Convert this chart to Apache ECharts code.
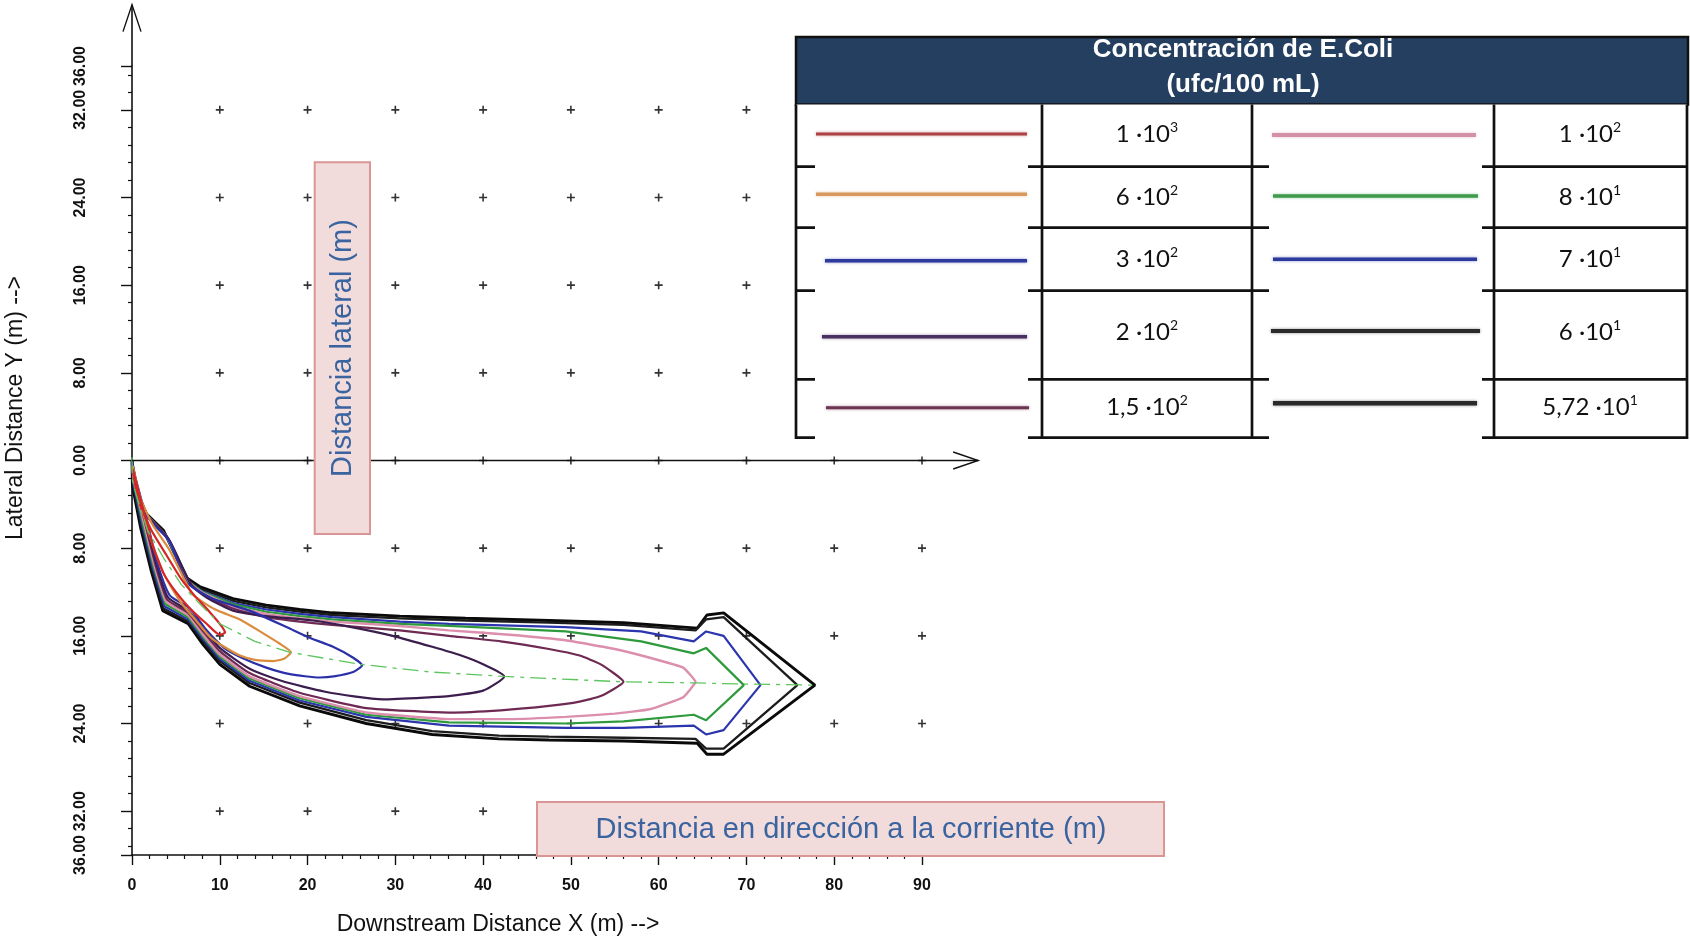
<!DOCTYPE html>
<html>
<head>
<meta charset="utf-8">
<title>Concentración de E.Coli</title>
<script src="https://cdn.jsdelivr.net/npm/echarts@6/dist/echarts.min.js"></script>
<style>
  html, body { margin: 0; padding: 0; background: #ffffff; }
  #chart { width: 1690px; height: 940px; }
</style>
</head>
<body>
<div id="chart"></div>
<script>
// ---- Iso-concentration contours of the plume: [downstream X (m), lateral Y (m)] ----
const contour_1e3 = [[0.1,0.8],[0.7,3.5],[2.1,6.2],[3.9,8.6],[5.6,10.8],[7.2,12.4],[8.6,13.6],[10.6,15.7],
  [10,15.9],[8.5,14.9],[6.6,13.5],[5.0,12.0],[3.6,10.3],[2.3,7.6],[1.0,3.6],[0.1,0.8]];
const contour_6e2 = [[0.1,0.5],[0.95,3.4],[2.3,5.8],[4.3,8.2],[6.0,10.9],[7.0,12.3],[9.5,13.6],[12.3,14.5],[15,15.8],[16.8,16.7],[18.1,17.5],
  [17.3,18.1],[16.1,18.3],[14,18.2],[12.3,17.8],[10.5,17.0],[8.9,16.1],[7.3,14.6],[5.6,13.0],[3.6,10.3],[1.9,6.6],[0.6,2.6],[0.1,0.5]];
const contour_3e2 = [[0,0.1],[0.85,3.1],[2.0,5.4],[4.3,7.4],[6.2,11.1],[8.9,12.5],[11,13.1],[13.4,13.7],[17.6,15.2],[20,16.1],[22.9,17.0],[25.2,18.0],[26.2,18.7],
  [25.2,19.3],[23,19.7],[21.4,19.8],[18,19.5],[15.3,18.9],[12.5,18.0],[10.5,17.1],[8.3,15.3],[6.6,13.5],[4.3,12.3],[2.9,9.4],[1.7,5.5],[0.4,1.6],[0,0.1]];
const contour_2e2 = [[0,0],[0.75,3.0],[1.9,5.2],[4.2,7.2],[6.8,11.4],[8.5,12.5],[11.5,13.7],[15.3,14.2],[20.6,14.6],[25,15.2],[29.7,16.0],[34.2,17.0],[37.5,17.8],[40,18.6],[42.4,19.7],
  [40,21.0],[36.1,21.5],[34.2,21.6],[28.6,21.8],[22,21.1],[17,20.1],[13.4,19.0],[10,17.1],[8.1,15.3],[6.4,13.7],[4.1,12.5],[2.8,9.5],[1.6,5.6],[0.35,1.7],[0,0]];
const contour_1_5e2 = [[0,0],[0.65,2.9],[1.8,5.1],[4.1,7.1],[6.7,11.3],[8.3,12.3],[11.5,13.5],[15.3,14.3],[19.1,14.7],[22.8,15.0],[30.5,15.5],[36.1,16.0],[42,16.5],[47.5,17.2],[51,17.8],[53.4,18.6],[56,20.2],
  [53.4,21.5],[51,22.0],[47.5,22.4],[42,22.8],[36.1,23.0],[26.7,22.6],[19.1,21.2],[13.4,19.4],[10,17.4],[8.1,15.6],[6.4,13.9],[4.0,12.7],[2.7,9.6],[1.5,5.7],[0.3,1.8],[0,0]];
const contour_1e2 = [[0,0],[0.55,2.8],[1.7,5.0],[4.0,7.0],[6.6,11.2],[8.1,12.1],[11.5,13.3],[15.3,14.0],[19.1,14.4],[22.8,14.7],[30.5,15.1],[36.1,15.5],[43,15.9],[49.4,16.4],[55,17.2],[59,18.0],[62.8,18.9],[64.2,20.2],
  [62.8,21.6],[59,22.7],[55,23.1],[49.4,23.4],[43,23.6],[36.1,23.6],[26.7,23.0],[19.1,21.5],[13.4,19.7],[10,17.7],[8.1,15.9],[6.4,14.1],[3.9,12.9],[2.6,9.7],[1.4,5.8],[0.25,1.9],[0,0]];
const contour_8e1 = [[0,0],[0.45,2.7],[1.6,4.9],[3.9,6.9],[6.5,11.1],[8.0,12.0],[11.5,13.1],[15.3,13.8],[19.1,14.2],[22.8,14.5],[30.5,14.9],[36.1,15.1],[49.4,15.6],[58,16.5],[64,17.6],[65.4,17.1],[69.7,20.5],
  [65.4,23.7],[64,23.2],[56,23.8],[49.4,24.0],[36.1,23.9],[26.7,23.2],[19.1,21.7],[13.4,19.9],[10,17.9],[8.1,16.1],[6.4,14.3],[3.8,13.1],[2.5,9.8],[1.3,5.9],[0.2,2.0],[0,0]];
const contour_7e1 = [[0,0],[0.35,2.6],[1.5,4.8],[3.8,6.8],[6.4,11.0],[7.9,11.9],[11.5,13.0],[15.3,13.6],[19.1,14.0],[22.8,14.3],[30.5,14.7],[36.1,14.9],[49.4,15.2],[58,15.6],[64,16.5],[65.4,15.6],[67.4,16.0],[71.6,20.5],
  [67.4,24.6],[65.4,25.0],[64,24.2],[56,24.4],[49.4,24.4],[36.1,24.2],[26.7,23.4],[19.1,21.9],[13.4,20.1],[10,18.1],[8.1,16.3],[6.4,14.5],[3.7,13.3],[2.4,9.9],[1.2,6.0],[0.15,2.1],[0,0]];
const contour_6e1 = [[0,0],[0.25,2.5],[1.4,4.7],[3.7,6.6],[6.3,10.9],[7.8,11.7],[11.5,12.8],[15.3,13.4],[19.1,13.8],[22.8,14.1],[30.5,14.4],[38,14.6],[47.5,14.8],[56,15.0],[64.2,15.5],[65.4,14.5],[67.4,14.3],[75.8,20.5],
  [67.4,26.3],[65.4,26.3],[64.2,25.4],[56,25.3],[47.5,25.2],[41.8,25.1],[34.2,24.7],[26.7,23.7],[19.1,22.1],[13.4,20.3],[10,18.3],[8.1,16.5],[6.4,14.7],[3.6,13.5],[2.3,10.0],[1.1,6.1],[0.1,2.2],[0,0]];
const contour_5_72e1 = [[0,0],[0.15,2.4],[1.3,4.6],[3.6,6.4],[6.2,10.7],[7.7,11.5],[11.5,12.6],[15.3,13.2],[19.1,13.6],[22.8,13.9],[30.5,14.2],[38,14.4],[47.5,14.6],[56,14.8],[64.4,15.3],[65.5,14.1],[67.4,13.9],[77.8,20.5],
  [67.4,26.8],[65.5,26.8],[64.4,25.8],[56,25.6],[47.5,25.5],[41.8,25.4],[34.2,25.0],[26.7,24.0],[19.1,22.4],[13.4,20.6],[10,18.6],[8.1,16.8],[6.4,14.9],[3.5,13.7],[2.2,10.1],[1.0,6.2],[0.05,2.3],[0,0]];
const plumeCentreline = [[0,-0.3],[0.05,1.8],[0.5,3.2],[1.8,6.4],[3.6,8.9],[5.6,11.3],[7.5,12.9],[10,14.9],[14,16.5],[18,17.5],[26,18.6],[34,19.3],[42.4,19.7],[56,20.2],[64.2,20.3],[70,20.4],[77.8,20.5]];

// ---- Contour levels (ufc/100 mL), written as mantissa · 10^exponent ----
const levelMantissa = ['1', '6', '3', '2', '1,5', '1', '8', '7', '6', '5,72'];
const levelExponent = ['3', '2', '2', '2', '2', '2', '1', '1', '1', '1'];

// ---- Axis ticks and reference grid ----
const xTickValues = [0, 10, 20, 30, 40, 50, 60, 70, 80, 90];
const yTickValues = [-36, -32, -24, -16, -8, 0, 8, 16, 24, 32, 36];
const gridMarkX = [10, 20, 30, 40, 50, 60, 70, 80, 90];
const gridMarkY = [-32, -24, -16, -8, 0, 8, 16, 24, 32];

// ---- Styles ----
const contours = [contour_1e3, contour_6e2, contour_3e2, contour_2e2, contour_1_5e2,
                  contour_1e2, contour_8e1, contour_7e1, contour_6e1, contour_5_72e1];
const lineColors   = ['#d42626', '#da8b3c', '#2a30a8', '#3b1d4e', '#6e2a52', '#dc8fac', '#2d9a3c', '#2b35ad', '#1c1c1c', '#0a0a0a'];
const lineWidths   = [2.2, 2.2, 2.2, 2.2, 2.2, 2.4, 2.2, 2.2, 2.3, 2.9];
const lineSmooth   = [0.2, 0.2, 0.2, 0.2, 0.15, 0.1, 0, 0, 0, 0];
const swatchColors = ['#ad4246', '#d69a5e', '#2f3a9e', '#4a3060', '#6e3552', '#d490a6', '#3f9a4c', '#2c3a9c', '#2a2a2a', '#2a2a2a'];
const swatchWidths = [3, 3.5, 3.5, 3.5, 3, 4, 3.5, 3.5, 4, 4.5];

const TICK_FONT = "'Liberation Sans',Arial,Helvetica,sans-serif";
const SANS = "'Liberation Sans',Arial,Helvetica,sans-serif";
const CELL_FONT = "Lato,'Open Sans','Noto Sans',sans-serif";

const yMinorTicks = [];
for (let k = -22; k <= 22; k++) {
  if (k % 5 !== 0) yMinorTicks.push(+(k * 1.6).toFixed(2));
}

const crossSymbol = 'path://M3,0H4.5V3H7.5V4.5H4.5V7.5H3V4.5H0V3H3Z';
const markData = [];
gridMarkY.forEach(function (y) { gridMarkX.forEach(function (x) { markData.push([x, y]); }); });

const series = [{
  type: 'scatter',
  data: markData,
  symbol: crossSymbol,
  symbolSize: 8,
  itemStyle: { color: '#000000' },
  silent: true,
  z: 1
}];

// outer contours first so the inner ones sit on top
for (let i = contours.length - 1; i >= 0; i--) {
  series.push({
    type: 'line',
    name: levelMantissa[i] + '·10^' + levelExponent[i],
    data: contours[i],
    showSymbol: false,
    symbol: 'none',
    smooth: lineSmooth[i],
    silent: true,
    clip: false,
    lineStyle: { color: lineColors[i], width: lineWidths[i] },
    z: 3
  });
}
series.push({
  type: 'line',
  data: plumeCentreline,
  showSymbol: false,
  symbol: 'none',
  silent: true,
  lineStyle: { color: '#5cc65c', width: 1.3, type: [16, 6, 4, 6] },
  z: 4
});

const chart = echarts.init(document.getElementById('chart'), null, { renderer: 'canvas' });

chart.setOption({
  animation: false,
  backgroundColor: '#ffffff',
  grid: { left: 132, right: 768, top: 66, bottom: 85, containLabel: false },
  xAxis: {
    type: 'value', min: 0, max: 90, interval: 10, position: 'bottom',
    axisLine: { onZero: false, lineStyle: { color: '#111', width: 1.6 } },
    axisTick: { length: 10, lineStyle: { color: '#111', width: 1.4 } },
    minorTick: { show: true, splitNumber: 5, length: 4, lineStyle: { color: '#111', width: 1.2 } },
    axisLabel: {
      margin: 23, fontFamily: TICK_FONT, fontWeight: 'bold', fontSize: 16, color: '#111',
      formatter: function (v) { return xTickValues.indexOf(v) >= 0 ? String(v) : ''; }
    },
    splitLine: { show: false },
    minorSplitLine: { show: false }
  },
  yAxis: [{
    type: 'value', inverse: true, min: -36, max: 36, position: 'left',
    axisLine: { show: true, onZero: false, lineStyle: { color: '#111', width: 1.6 } },
    axisTick: { show: true, length: 11, customValues: yTickValues, lineStyle: { color: '#111', width: 1.4 } },
    axisLabel: {
      customValues: yTickValues, rotate: 90, margin: 43,
      fontFamily: TICK_FONT, fontWeight: 'bold', fontSize: 16, color: '#111',
      formatter: function (v) { return Math.abs(v).toFixed(2); }
    },
    splitLine: { show: false }
  }, {
    type: 'value', inverse: true, min: -36, max: 36, position: 'left', offset: 0,
    axisLine: { show: false },
    axisLabel: { show: false },
    splitLine: { show: false },
    axisTick: { show: true, length: 4, customValues: yMinorTicks, lineStyle: { color: '#111', width: 1.2 } }
  }],
  series: series
});

// ---- Annotations: axis arrows, labels and the concentration table ----
function px(x, y) { return chart.convertToPixel({ gridIndex: 0 }, [x, y]); }

const o = px(0, 0);
const xEnd = px(96.4, 0);
const yTopAxis = px(0, -36);
const yEnd = px(0, -41.6);

const g = [];
// lateral zero line with open arrow
g.push({ type: 'polyline', z: 5, shape: { points: [o, xEnd] }, style: { stroke: '#111', lineWidth: 1.5, fill: null } });
g.push({ type: 'polyline', z: 5, shape: { points: [[xEnd[0] - 25, xEnd[1] - 8.5], xEnd, [xEnd[0] - 25, xEnd[1] + 8.5]] }, style: { stroke: '#111', lineWidth: 1.4, fill: null } });
// vertical axis extension with open arrow
g.push({ type: 'polyline', z: 5, shape: { points: [yTopAxis, yEnd] }, style: { stroke: '#111', lineWidth: 1.6, fill: null } });
g.push({ type: 'polyline', z: 5, shape: { points: [[yEnd[0] - 9, yEnd[1] + 27], yEnd, [yEnd[0] + 9, yEnd[1] + 27]] }, style: { stroke: '#111', lineWidth: 1.4, fill: null } });

// axis titles
g.push({ type: 'text', z: 100, x: 16, y: 408, rotation: Math.PI / 2,
  style: { text: 'Lateral Distance Y (m) -->', font: '23px ' + SANS, fill: '#111', align: 'center', verticalAlign: 'middle' } });
g.push({ type: 'text', z: 100, x: 498, y: 925,
  style: { text: 'Downstream Distance X (m) -->', font: '23px ' + SANS, fill: '#111', align: 'center', verticalAlign: 'middle' } });

// Spanish captions in pink boxes
g.push({ type: 'rect', z: 100, shape: { x: 314.7, y: 162.3, width: 55.3, height: 371.7 },
  style: { fill: '#f2dcdb', stroke: '#d99694', lineWidth: 2 } });
g.push({ type: 'text', z: 101, x: 342.5, y: 348, rotation: Math.PI / 2,
  style: { text: 'Distancia lateral (m)', font: '29px ' + SANS, fill: '#3a64a0', align: 'center', verticalAlign: 'middle' } });
g.push({ type: 'rect', z: 100, shape: { x: 537, y: 802, width: 627, height: 54 },
  style: { fill: '#f2dcdb', stroke: '#d99694', lineWidth: 2 } });
g.push({ type: 'text', z: 101, x: 851, y: 830,
  style: { text: 'Distancia en dirección a la corriente (m)', font: '29px ' + SANS, fill: '#3a64a0', align: 'center', verticalAlign: 'middle' } });

// concentration table
const T = { left: 796, right: 1687, headTop: 37, headBottom: 104.5 };
const rowLines = [104.5, 166.7, 227.7, 290.7, 379.3, 437.7];
const colLines = [796, 1042, 1252, 1494, 1687];
const swatchBoxes = [[815, 1028], [1269, 1482]];
const swatchRowsY = [[134, 194.3, 260.7, 336.7, 407.7], [135, 196, 259.3, 331, 403.3]];
const swatchX = [[[816, 1027], [816, 1027], [825, 1027], [822, 1027], [826, 1029]],
                 [[1272, 1476], [1273, 1478], [1273, 1477], [1271, 1480], [1273, 1477]]];
const cellTextY = [134.5, 197.5, 259.5, 332, 407.5];
const cellTextX = [1147, 1590];

g.push({ type: 'rect', z: 110, shape: { x: T.left, y: T.headTop, width: T.right - T.left + 1, height: T.headBottom - T.headTop },
  style: { fill: '#243f60', stroke: '#111', lineWidth: 2.5 } });
g.push({ type: 'rect', z: 110, shape: { x: T.left, y: T.headBottom, width: T.right - T.left, height: rowLines[5] - T.headBottom },
  style: { fill: '#ffffff', stroke: null } });
g.push({ type: 'text', z: 112, x: 1243, y: 49.5,
  style: { text: 'Concentración de E.Coli', font: 'bold 26px ' + SANS, fill: '#ffffff', align: 'center', verticalAlign: 'middle' } });
g.push({ type: 'text', z: 112, x: 1243, y: 85,
  style: { text: '(ufc/100 mL)', font: 'bold 26px ' + SANS, fill: '#ffffff', align: 'center', verticalAlign: 'middle' } });

rowLines.slice(1).forEach(function (y) {
  g.push({ type: 'line', z: 111, shape: { x1: T.left, y1: y, x2: T.right, y2: y }, style: { stroke: '#111', lineWidth: 2.7 } });
});
colLines.forEach(function (x) {
  g.push({ type: 'line', z: 111, shape: { x1: x, y1: T.headBottom, x2: x, y2: rowLines[5] + 1.3 }, style: { stroke: '#111', lineWidth: 2.7 } });
});
swatchBoxes.forEach(function (b) {
  g.push({ type: 'rect', z: 112, shape: { x: b[0], y: T.headBottom + 1.3, width: b[1] - b[0], height: rowLines[5] - T.headBottom + 2 },
    style: { fill: '#ffffff', stroke: null } });
});

for (let i = 0; i < levelMantissa.length; i++) {
  const c = i < 5 ? 0 : 1;
  const r = i % 5;
  const sx = swatchX[c][r];
  const sy = swatchRowsY[c][r];
  g.push({ type: 'line', z: 113, shape: { x1: sx[0], y1: sy, x2: sx[1], y2: sy },
    style: { stroke: swatchColors[i], lineWidth: swatchWidths[i], shadowBlur: 3, shadowColor: swatchColors[i] + '88' } });
  g.push({ type: 'text', z: 113, x: cellTextX[c], y: cellTextY[r],
    style: {
      text: '{m|' + levelMantissa[i] + ' \u00b7' + '10}{e|' + levelExponent[i] + '}',
      align: 'center', verticalAlign: 'middle',
      rich: {
        m: { fontFamily: CELL_FONT, fontSize: 24, fill: '#111', lineHeight: 28, verticalAlign: 'middle' },
        e: { fontFamily: CELL_FONT, fontSize: 14, fill: '#111', lineHeight: 14, verticalAlign: 'top' }
      }
    } });
}

chart.setOption({ graphic: { elements: g } });
</script>
</body>
</html>
